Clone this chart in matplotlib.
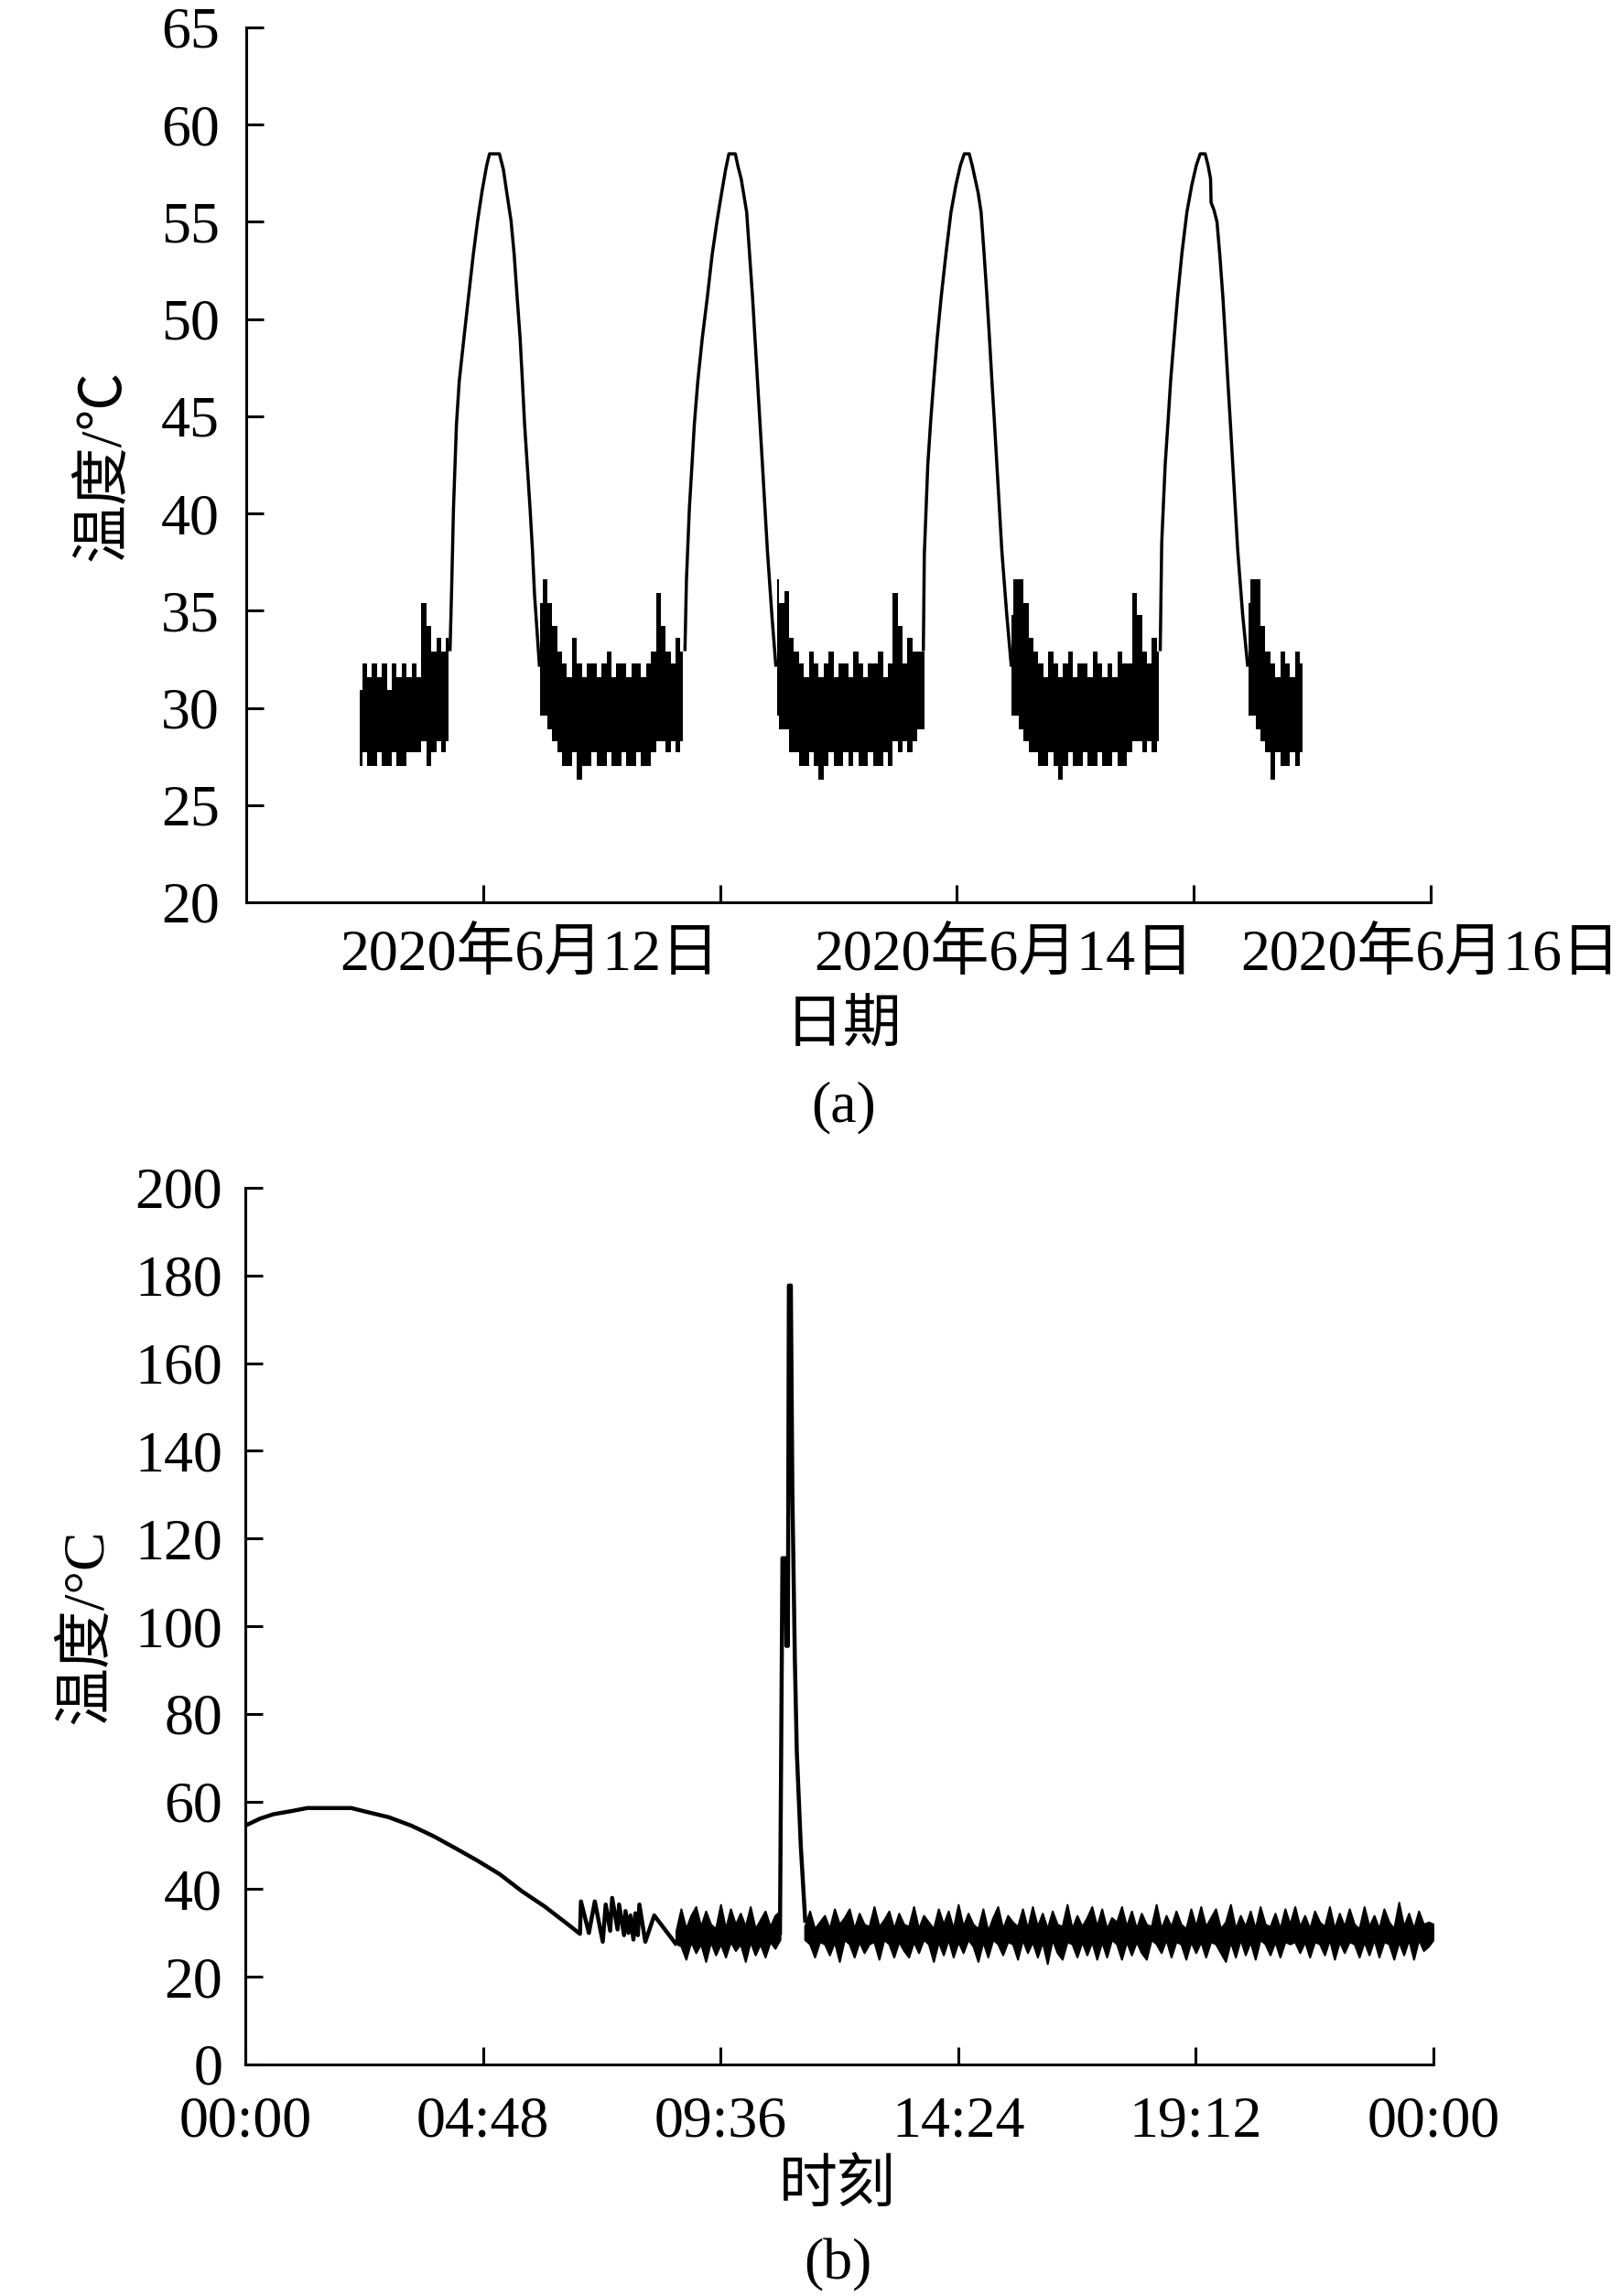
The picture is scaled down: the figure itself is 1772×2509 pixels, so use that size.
import numpy as np
import matplotlib
matplotlib.use("Agg")
import matplotlib.pyplot as plt
import matplotlib.dates as mdates
import matplotlib.transforms as mtransforms

plt.rcParams['font.family'] = ['Liberation Serif', 'Noto Sans CJK SC']
plt.rcParams['axes.unicode_minus'] = False
FS = 46

# ---------------- Panel (a) data : hours since 2020-06-10 00:00 ----------------
a_start = '2020-06-10'
a_band_step = 0.5

# noisy baseline segments: start hour + per-sample max / min
seg0_start = 11.5
seg0_hi = [30.9, 32.3, 31.6, 32.3, 31.6, 32.3, 30.9, 32.3, 31.6, 32.3, 31.6, 32.3, 31.6,
           35.4, 34.2, 32.9, 33.6, 32.9, 33.6]
seg0_lo = [27.0, 27.7, 27.0, 27.0, 27.7, 27.0, 27.0, 27.7, 27.0, 27.0, 27.7, 27.7, 27.7,
           28.3, 27.0, 27.7, 28.3, 27.7, 28.3]

seg1_start = 29.75
seg1_hi = [35.4, 36.6, 35.4, 34.2, 32.9, 32.3, 31.6, 33.6, 32.3, 31.6, 32.3, 32.3, 31.6, 32.3, 32.9,
           31.6, 32.3, 32.3, 31.6, 32.3, 32.3, 31.6, 32.3, 32.9, 35.9, 34.2, 32.9, 32.3, 33.6, 32.9]
seg1_lo = [29.6, 29.6, 28.9, 28.3, 27.7, 27.0, 27.0, 27.7, 26.3, 27.0, 27.0, 27.7, 27.0, 27.0, 27.7,
           27.0, 27.0, 27.7, 27.0, 27.0, 27.7, 27.0, 27.0, 27.7, 28.3, 28.3, 27.7, 28.3, 27.7, 28.3]

seg2_start = 53.75
seg2_hi = [36.6, 35.4, 36.0, 33.6, 32.9, 32.3, 31.6, 32.9, 32.3, 31.6, 32.3, 32.9, 31.6, 32.3, 32.3,
           31.6, 32.9, 32.3, 31.6, 32.3, 32.3, 32.9, 31.6, 32.3, 35.9, 34.2, 32.3, 33.6, 32.9, 32.9, 32.9]
seg2_lo = [29.6, 28.9, 28.9, 27.7, 27.7, 27.0, 27.0, 27.7, 27.0, 26.3, 27.0, 27.7, 27.0, 27.0, 27.7,
           27.0, 27.7, 27.0, 27.0, 27.7, 27.0, 27.0, 27.7, 27.0, 28.3, 27.7, 28.3, 27.7, 28.3, 28.9, 28.9]

seg3_start = 77.5
seg3_hi = [34.8, 36.6, 36.6, 35.4, 33.6, 32.9, 32.3, 31.6, 32.9, 32.3, 31.6, 32.3, 32.9, 31.6, 32.3,
           32.3, 31.6, 32.9, 32.3, 31.6, 32.3, 31.6, 32.9, 32.3, 32.3, 35.9, 34.8, 32.9, 32.3, 33.6, 32.9]
seg3_lo = [29.6, 29.6, 28.9, 28.3, 27.7, 27.7, 27.0, 27.0, 27.7, 27.0, 26.3, 27.0, 27.7, 27.0, 27.0,
           27.7, 27.0, 27.0, 27.7, 27.0, 27.0, 27.7, 27.0, 27.0, 27.7, 28.3, 28.3, 27.7, 28.3, 27.7, 28.3]

seg4_start = 101.5
seg4_hi = [35.4, 36.6, 36.6, 34.2, 32.9, 32.3, 31.6, 32.9, 32.3, 31.6, 32.9, 32.3]
seg4_lo = [29.6, 29.6, 28.9, 28.3, 27.7, 26.3, 27.7, 27.0, 27.0, 27.7, 27.0, 27.7]

# daily heating peaks (smooth part)
peak1_t = [20.65, 20.8, 21.0, 21.3, 21.58, 22.05, 22.51, 23.0, 23.44, 23.9, 24.36, 24.65, 25.65, 26.05,
           26.37, 26.83, 27.15, 27.45, 27.75, 27.98, 28.2, 28.47, 28.75, 29.0, 29.2, 29.7]
peak1_v = [33.0, 35.9, 40.3, 44.6, 46.8, 49.0, 51.1, 53.3, 55.05, 56.6, 57.9, 58.5, 58.5, 57.7,
           56.6, 55.05, 53.3, 51.1, 49.0, 46.8, 44.6, 42.5, 40.3, 38.1, 35.9, 32.2]
peak2_t = [44.45, 44.6, 44.9, 45.16, 45.4, 45.75, 46.2, 46.71, 47.2, 47.7, 48.2, 48.57, 48.9, 49.55,
           49.8, 50.15, 50.7, 51.0, 51.3, 51.8, 52.3, 52.8, 53.25, 53.65]
peak2_v = [33.0, 36.6, 40.3, 42.5, 44.6, 46.8, 49.0, 51.1, 53.3, 55.05, 56.6, 57.7, 58.5, 58.5,
           57.9, 57.2, 55.5, 53.3, 51.1, 46.8, 42.5, 38.1, 34.8, 32.2]
peak3_t = [68.6, 68.7, 69.05, 69.35, 69.65, 70.0, 70.4, 70.9, 71.4, 71.9, 72.35, 72.75, 73.25, 73.55,
           73.85, 74.15, 74.45, 74.75, 75.05, 75.3, 75.55, 75.8, 76.05, 76.3, 76.55, 77.05, 77.5]
peak3_v = [33.0, 37.9, 42.5, 44.8, 46.8, 49.0, 51.1, 53.4, 55.5, 56.9, 57.9, 58.5, 58.5, 57.9,
           57.2, 56.5, 55.5, 53.4, 51.1, 49.0, 46.8, 44.7, 42.5, 40.3, 38.1, 34.8, 32.2]
peak4_t = [92.6, 92.75, 93.1, 93.4, 93.65, 94.0, 94.35, 94.8, 95.3, 95.8, 96.25, 96.65, 97.15, 97.45,
           97.7, 97.75, 98.05, 98.35, 98.65, 98.95, 99.2, 99.45, 99.7, 99.95, 100.2, 100.45, 100.95, 101.45]
peak4_v = [33.0, 38.5, 42.5, 44.8, 46.8, 49.0, 51.1, 53.4, 55.5, 56.9, 57.9, 58.5, 58.5, 57.9,
           57.2, 56.0, 55.6, 55.0, 53.2, 51.1, 49.0, 46.8, 44.7, 42.5, 40.3, 38.1, 34.8, 32.2]

a_ticks = ['2020-06-11', '2020-06-12', '2020-06-13', '2020-06-14', '2020-06-15']
a_labels = ['2020年6月12日', '2020年6月14日', '2020年6月16日']
a_label_anchor = ['2020-06-12', '2020-06-14', '2020-06-15']
a_label_ha = ['right', 'right', 'center']
a_yticks = [20, 25, 30, 35, 40, 45, 50, 55, 60, 65]

# ---------------- Panel (b) data : hours of the day ----------------
b_line_t = [0.0, 0.3, 0.57, 0.93, 1.25, 2.14, 2.46, 2.9, 3.35, 3.8, 4.25, 4.69, 5.14, 5.59, 6.04, 6.49, 6.76,
            6.78, 6.94, 7.06, 7.22, 7.28, 7.37, 7.41, 7.52, 7.55, 7.65, 7.68, 7.74, 7.78, 7.84, 7.88, 7.93,
            7.96, 8.08, 8.26, 8.69]
b_line_v = [54.5, 56.1, 57.1, 57.8, 58.5, 58.5, 57.6, 56.4, 54.5, 52.1, 49.3, 46.5, 43.4, 39.5, 36.1, 32.2, 29.8,
            37.2, 30.0, 37.2, 28.0, 36.5, 30.5, 38.0, 30.8, 36.5, 29.5, 35.0, 30.0, 34.0, 28.5, 34.5, 29.5,
            36.5, 28.0, 34.0, 27.6]

b_spike_t = [10.8, 10.85, 10.91, 10.93, 10.96, 10.98, 11.02, 11.05, 11.10, 11.14, 11.22, 11.31]
b_spike_v = [30.0, 115.5, 115.5, 95.5, 95.5, 177.7, 177.7, 131.0, 92.8, 71.4, 50.0, 32.8]

b_band_step = 0.1
b_rib1_start = 8.7
b_rib1_hi = [30.5, 35.5, 31.0, 34.0, 36.0, 31.5, 35.0, 32.0, 31.0, 36.5, 31.0, 35.5, 32.0, 34.5, 31.5,
             36.0, 31.0, 33.0, 35.0, 31.5, 34.0, 35.0]
b_rib1_lo = [27.6, 27.0, 24.0, 28.0, 25.5, 27.5, 23.5, 28.0, 25.0, 27.5, 24.5, 28.0, 26.0, 27.5, 23.5,
             28.0, 25.0, 27.5, 24.5, 28.0, 26.5, 28.5]

b_rib2_start = 11.3
b_rib2_hi = [31.5, 35.0, 31.0, 32.5, 34.0, 31.0, 35.5, 32.0, 33.5, 35.5,
             31.0, 34.5, 32.0, 31.5, 36.0, 31.5, 33.0, 35.0, 31.0, 34.5,
             32.0, 31.5, 36.0, 31.0, 34.0, 32.5, 31.0, 35.5, 32.0, 35.0,
             31.0, 36.5, 31.5, 34.5, 32.0, 31.0, 35.5, 30.5, 33.5, 36.0,
             31.0, 34.0, 32.5, 31.5, 35.5, 31.0, 36.0, 31.5, 34.5, 31.0,
             35.0, 32.0, 31.5, 36.5, 31.0, 34.0, 31.5, 33.5, 36.0, 31.5,
             35.5, 31.0, 33.5, 32.5, 36.0, 31.5, 35.0, 31.0, 34.5, 32.0,
             31.5, 36.5, 31.0, 34.0, 31.5, 35.0, 32.0, 31.0, 35.5, 31.5,
             36.0, 31.5, 33.5, 35.5, 31.0, 32.5, 36.5, 31.0, 34.0, 31.5,
             35.0, 31.0, 36.0, 32.0, 31.5, 34.5, 31.0, 35.5, 32.0, 36.0,
             31.5, 34.0, 31.0, 35.0, 32.5, 31.5, 36.0, 31.0, 34.5, 31.5,
             35.5, 32.0, 31.0, 36.0, 31.5, 34.0, 31.0, 35.5, 32.5, 31.0,
             37.0, 31.5, 34.5, 31.0, 35.0, 32.0, 32.5, 32.0]
b_rib2_lo = [28.5, 27.5, 24.5, 28.0, 27.5, 25.0, 28.0, 23.5, 28.5, 27.5,
             24.5, 28.0, 25.5, 27.5, 28.0, 24.0, 28.5, 27.5, 24.5, 28.0,
             26.0, 24.5, 28.0, 25.5, 28.5, 27.5, 23.5, 28.0, 25.0, 28.5,
             24.5, 28.0, 25.5, 28.5, 27.0, 23.5, 28.0, 24.5, 28.5, 27.5,
             25.0, 28.0, 27.5, 24.0, 28.5, 25.5, 28.0, 24.5, 28.0, 23.0,
             28.5, 25.5, 24.0, 28.0, 27.5, 24.5, 28.0, 25.0, 28.0, 24.0,
             28.0, 24.5, 28.5, 27.5, 24.0, 28.0, 25.0, 28.0, 25.5, 24.0,
             28.5, 27.5, 25.5, 28.5, 24.5, 28.0, 27.5, 24.0, 28.0, 25.5,
             28.0, 24.5, 28.0, 27.5, 25.5, 23.5, 28.0, 24.5, 28.5, 25.0,
             28.0, 24.0, 28.5, 27.5, 25.0, 28.0, 24.5, 28.0, 27.5, 28.0,
             25.5, 28.0, 24.5, 28.0, 27.5, 25.0, 28.5, 24.0, 28.0, 25.5,
             28.0, 27.5, 24.5, 28.0, 25.0, 28.5, 24.5, 28.0, 27.5, 24.0,
             28.0, 25.0, 28.5, 24.0, 28.5, 26.0, 27.0, 28.5]

b_xticks = [0, 4.8, 9.6, 14.4, 19.2, 24]
b_xlabels = ['00:00', '04:48', '09:36', '14:24', '19:12', '00:00']
b_yticks = [0, 20, 40, 60, 80, 100, 120, 140, 160, 180, 200]

# ---------------- figure ----------------
W, H = 1772, 2509
fig = plt.figure(figsize=(W / 100, H / 100), dpi=100)
ax1 = fig.add_axes([269 / W, 1 - 986 / H, 1294 / W, 956 / H])
ax2 = fig.add_axes([268 / W, 1 - 2256 / H, 1298 / W, 958 / H])

base_a = mdates.datestr2num(a_start)


def hx(h):
    return base_a + np.asarray(h, dtype=float) / 24.0


for s, hi, lo in [(seg0_start, seg0_hi, seg0_lo), (seg1_start, seg1_hi, seg1_lo),
                  (seg2_start, seg2_hi, seg2_lo), (seg3_start, seg3_hi, seg3_lo),
                  (seg4_start, seg4_hi, seg4_lo)]:
    t = s + a_band_step * np.arange(len(hi))
    ax1.fill_between(hx(t), lo, hi, step='mid', color='black', linewidth=0)

for pt, pv in [(peak1_t, peak1_v), (peak2_t, peak2_v), (peak3_t, peak3_v), (peak4_t, peak4_v)]:
    ax1.plot(hx(pt), pv, color='black', lw=2.5)

ax1.set_xlim(mdates.datestr2num('2020-06-10'), mdates.datestr2num('2020-06-15'))
ax1.set_ylim(20, 65)
ax1.set_xticks([mdates.datestr2num(d) for d in a_ticks])
ax1.set_xticklabels([''] * len(a_ticks))
ax1.set_yticks(a_yticks)
ax1.set_yticklabels([str(v) for v in a_yticks], fontsize=FS)
trans = mtransforms.blended_transform_factory(ax1.transData, ax1.transAxes)
for lab, anc, ha in zip(a_labels, a_label_anchor, a_label_ha):
    ax1.text(mdates.datestr2num(anc), -0.062, lab, transform=trans, ha=ha, va='center', fontsize=FS)

# panel b
ax2.plot(b_line_t, b_line_v, color='black', lw=3.2)
for s, hi, lo in [(b_rib1_start, b_rib1_hi, b_rib1_lo), (b_rib2_start, b_rib2_hi, b_rib2_lo)]:
    t = s + b_band_step * np.arange(len(hi))
    ax2.fill_between(t, lo, hi, color='black', linewidth=1.5, edgecolor='black')
ax2.plot(b_spike_t, b_spike_v, color='black', lw=3.2)

ax2.set_xlim(0, 24)
ax2.set_ylim(0, 200)
ax2.set_xticks(b_xticks)
ax2.set_xticklabels(b_xlabels, fontsize=FS)
ax2.set_yticks(b_yticks)
ax2.set_yticklabels([str(v) for v in b_yticks], fontsize=FS)

for ax in (ax1, ax2):
    for sp in ('top', 'right'):
        ax.spines[sp].set_visible(False)
    for sp in ('left', 'bottom'):
        ax.spines[sp].set_linewidth(2.2)
    ax.tick_params(direction='in', length=14, width=2.2)

ax1.tick_params(axis='y', pad=21)
ax2.tick_params(axis='y', pad=18)
ax2.tick_params(axis='x', pad=25)

ax1.text(-0.119, 0.5, '温度/℃', transform=ax1.transAxes, rotation=90, ha='center', va='center', fontsize=FS)
ax1.text(0.5046, -0.1433, '日期', transform=ax1.transAxes, ha='center', va='center', fontsize=FS)
ax1.text(0.5046, -0.2343, '(a)', transform=ax1.transAxes, ha='center', va='center', fontsize=FS)

ax2.text(-0.1325, 0.5, '温度/°C', transform=ax2.transAxes, rotation=90, ha='center', va='center', fontsize=FS)
ax2.text(0.4985, -0.1399, '时刻', transform=ax2.transAxes, ha='center', va='center', fontsize=FS)
ax2.text(0.4985, -0.2286, '(b)', transform=ax2.transAxes, ha='center', va='center', fontsize=FS)

fig.savefig('out.png', dpi=100, facecolor='white')
